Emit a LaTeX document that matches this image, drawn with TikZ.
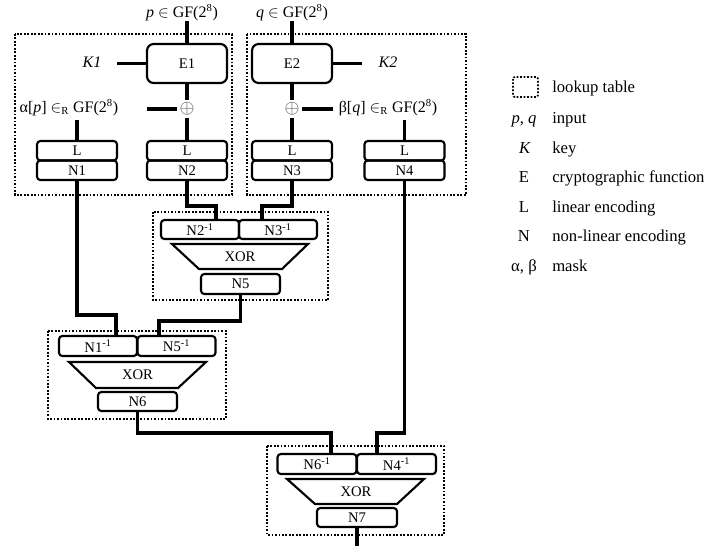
\documentclass[tikz,border=0pt]{standalone}
\usepackage{fontspec}
\setmainfont{Liberation Serif}
\begin{document}
\begin{tikzpicture}[x=0.75pt,y=-0.75pt,
  conn/.style={line width=2.8pt},
  bx/.style={draw, line width=1.6pt, rounded corners=2.5pt, inner sep=0pt,
    minimum width=59.25pt, minimum height=14.625pt, font=\fontsize{11}{12}\selectfont},
  ebox/.style={bx, rounded corners=5pt, minimum height=29.25pt, minimum width=60pt},
  lut/.style={draw, line width=1.3pt, dash pattern=on 1.3pt off 1.3pt},
  trap/.style={draw, line width=1.6pt, line join=miter},
  xtxt/.style={inner sep=0pt, font=\fontsize{11}{12}\selectfont},
  lbl/.style={inner sep=0pt, anchor=base, font=\fontsize{12}{14}\selectfont},
  oplusn/.style={inner sep=2pt, text=black!75, font=\fontsize{15}{17}\selectfont},
  legsym/.style={inner sep=0pt, anchor=base, font=\fontsize{12.5}{15}\selectfont},
  legtxt/.style={inner sep=0pt, anchor=base west, font=\fontsize{12.5}{15}\selectfont}
]
\useasboundingbox (0,0) rectangle (709,546);

% lookup-table frames
\draw[lut] (15,34) rectangle (232,195);
\draw[lut] (247,34) rectangle (466,195);
\draw[lut] (153,212) rectangle (328,300);
\draw[lut] (48,331) rectangle (226,419);
\draw[lut] (267,446) rectangle (444,535);

% inputs
\node[lbl] (pin) at (182,17) {\textit{p} $\in$ GF(2\textsuperscript{8})};
\node[lbl] (qin) at (292,17) {\textit{q} $\in$ GF(2\textsuperscript{8})};

% E boxes
\node[ebox] (E1) at (187,63.5) {E1};
\node[ebox] (E2) at (292,63.5) {E2};

% keys
\node[lbl] (K1) at (92,67) {\textit{K1}};
\node[lbl] (K2) at (388,67) {\textit{K2}};
\coordinate (k1) at (117,63.5);
\coordinate (k2) at (362,63.5);

% xor with masks
\node[oplusn] (x1) at (187,109) {$\oplus$};
\node[oplusn] (x2) at (292,109) {$\oplus$};
\node[lbl] (alab) at (69,112) {α[\textit{p}] $\in$\textsubscript{R} GF(2\textsuperscript{8})};
\node[lbl] (blab) at (388,112) {β[\textit{q}] $\in$\textsubscript{R} GF(2\textsuperscript{8})};
\coordinate (a1) at (147,109);
\coordinate (b1) at (333,109);
\coordinate (t1) at (77,120);
\coordinate (t4) at (404.5,120);

% L / N boxes
\node[bx, minimum width=60pt] (L1) at (77,150.75) {L};
\node[bx, minimum width=60pt] (N1) at (77,170.25) {N1};
\node[bx, minimum width=60pt] (L2) at (187,150.75) {L};
\node[bx, minimum width=60pt] (N2) at (187,170.25) {N2};
\node[bx, minimum width=60pt] (L3) at (292,150.75) {L};
\node[bx, minimum width=60pt] (N3) at (292,170.25) {N3};
\node[bx, minimum width=60pt] (L4) at (404.5,150.75) {L};
\node[bx, minimum width=60pt] (N4) at (404.5,170.25) {N4};

% XOR block 1
\node[bx, minimum width=58.5pt, minimum height=14.25pt] (N2i) at (200,229.5) {N2\textsuperscript{-1}};
\node[bx, minimum width=58.5pt, minimum height=14.25pt] (N3i) at (278,229.5) {N3\textsuperscript{-1}};
\draw[trap] (172,244) -- (308,244) -- (282,269) -- (199,269) -- cycle;
\node[xtxt] (X1) at (240,256.5) {XOR};
\node[bx, minimum height=15pt] (N5) at (240.5,284) {N5};

% XOR block 2
\node[bx, minimum width=58.5pt, minimum height=15pt] (N1i) at (98,346) {N1\textsuperscript{-1}};
\node[bx, minimum width=58.5pt, minimum height=15pt] (N5i) at (176.5,346) {N5\textsuperscript{-1}};
\draw[trap] (69,362) -- (206,362) -- (178,388) -- (96,388) -- cycle;
\node[xtxt] (X2) at (137.5,375) {XOR};
\node[bx, minimum height=14.25pt] (N6) at (137.5,401.5) {N6};

% XOR block 3
\node[bx, minimum height=15pt] (N6i) at (317,464) {N6\textsuperscript{-1}};
\node[bx, minimum height=15pt] (N4i) at (396.5,464) {N4\textsuperscript{-1}};
\draw[trap] (287,479) -- (424,479) -- (397,504) -- (315,504) -- cycle;
\node[xtxt] (X3) at (356,491.5) {XOR};
\node[bx, minimum width=60pt, minimum height=14.25pt] (N7) at (357,517.5) {N7};
\coordinate (out) at (357,546);

% connectors
\draw[conn] ([yshift=-3pt]pin.base -| E1.north) -- (E1.north);
\draw[conn] ([yshift=-3pt]qin.base -| E2.north) -- (E2.north);
\draw[conn] (k1) -- (E1.west);
\draw[conn] (E2.east) -- (k2);
\draw[conn] (E1.south) -- (x1.north);
\draw[conn] (E2.south) -- (x2.north);
\draw[conn] (a1) -- (x1.west);
\draw[conn] (x2.east) -- (b1);
\draw[conn] (x1.south) -- (L2.north);
\draw[conn] (x2.south) -- (L3.north);
\draw[conn] (t1) -- (L1.north);
\draw[conn] (t4) -- (L4.north);
\draw[conn] (N2.south) -- ++(0,25) -| ([xshift=12pt]N2i.north);
\draw[conn] (N3.south) -- ++(0,25) -| ([xshift=-12pt]N3i.north);
\draw[conn] (N1.south) -- ++(0,134) -| ([xshift=13.5pt]N1i.north);
\draw[conn] (N5.south) -- ++(0,26) -| ([xshift=-13pt]N5i.north);
\draw[conn] (N6.south) -- ++(0,21) -| ([xshift=10.5pt]N6i.north);
\draw[conn] (N4.south) -- ++(0,252) -| ([xshift=-14.6pt]N4i.north);
\draw[conn] (N7.south) -- (out);

% legend
\draw[lut, rounded corners=1.5pt] (513,77) rectangle (538,97);
\node[legtxt] (lg1) at (552,92) {lookup table};
\node[legsym] (ls2) at (524,123) {\textit{p}, \textit{q}};
\node[legtxt] (lg2) at (552,123) {input};
\node[legsym] (ls3) at (525,153) {\textit{K}};
\node[legtxt] (lg3) at (552,153) {key};
\node[legsym] (ls4) at (524,182.5) {E};
\node[legtxt] (lg4) at (552,182.5) {cryptographic function};
\node[legsym] (ls5) at (524,212) {L};
\node[legtxt] (lg5) at (552,212) {linear encoding};
\node[legsym] (ls6) at (524,241) {N};
\node[legtxt] (lg6) at (552,241) {non-linear encoding};
\node[legsym] (ls7) at (524,271) {α, β};
\node[legtxt] (lg7) at (552,271) {mask};
\end{tikzpicture}
\end{document}
